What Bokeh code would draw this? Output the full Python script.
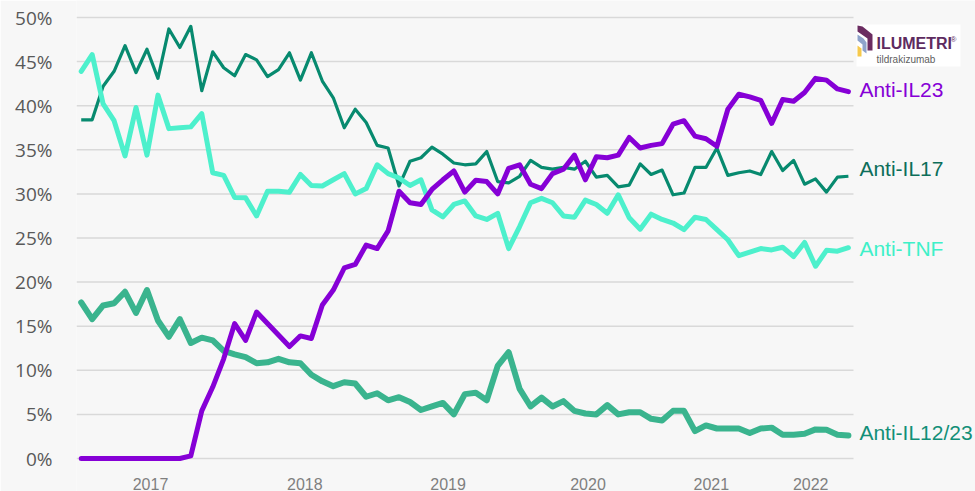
from bokeh.plotting import figure
from bokeh.models import (FixedTicker, PrintfTickFormatter, Label,
                          BoxAnnotation, PolyAnnotation, Range1d)
from bokeh.core.properties import value
from bokeh.embed import file_html
from bokeh.resources import INLINE

# ---------------- data (share of new patients, %) ----------------
months = list(range(71))

anti_il23 = [0, 0, 0, 0, 0, 0, 0, 0, 0, 0,
             0.3, 5.4, 8.1, 11.3, 15.3, 13.4, 16.6, 15.3, 14.0, 12.7, 13.9, 13.6, 17.4,
             19.1, 21.6, 22.0, 24.2, 23.8, 25.8, 30.3, 29.0, 28.8, 30.5, 31.6, 32.6, 30.2, 31.55,
             31.4, 30.0, 32.9, 33.3, 31.1, 30.6, 32.3, 32.8, 34.4, 31.6, 34.2, 34.1, 34.4, 36.4,
             35.2, 35.5, 35.7, 37.9, 38.3, 36.55, 36.25, 35.4, 39.6, 41.3, 41.0, 40.6, 38.0, 40.7,
             40.5, 41.5, 43.1, 42.9, 41.9, 41.6]

anti_il17 = [38.4, 38.4, 42.2, 43.9, 46.8, 43.75, 46.4, 43.1, 48.7, 46.6, 49.0,
             41.7, 46.1, 44.3, 43.4, 45.8, 45.2, 43.3, 44.1, 46.0, 42.9, 46.0, 42.8,
             40.9, 37.5, 39.6, 38.1, 35.5, 35.2, 30.9, 33.7, 34.1, 35.3, 34.5, 33.5, 33.3, 33.4,
             34.8, 31.4, 31.25, 32.0, 33.8, 33.0, 32.8, 33.0, 32.8, 33.7, 31.9, 32.1, 30.8, 31.0,
             33.4, 32.2, 32.7, 29.9, 30.1, 33.0, 33.0, 35.2, 32.1, 32.4, 32.6, 32.2, 34.8, 32.65,
             33.8, 31.1, 31.7, 30.2, 31.9, 32.0]

anti_tnf = [43.9, 45.8, 40.2, 38.3, 34.3, 39.8, 34.4, 41.2, 37.4, 37.5, 37.6, 39.1, 32.4, 32.1,
            29.6, 29.55, 27.5, 30.3, 30.3, 30.2, 32.2, 30.95, 30.9,
            31.6, 32.3, 30.0, 30.6, 33.3, 32.3, 31.8, 30.95, 31.6, 28.2, 27.4, 28.8, 29.2, 27.5,
            27.1, 27.8, 23.8, 26.3, 29.0, 29.5, 29.0, 27.5, 27.35, 29.3, 28.8, 27.8, 29.9, 27.3,
            26.0, 27.7, 27.1, 26.7, 25.95, 27.35, 27.1, 25.95, 24.8, 23.0, 23.4, 23.8, 23.65, 23.95,
            22.9, 24.5, 21.8, 23.6, 23.5, 23.9]

anti_il1223 = [17.7, 15.8, 17.35, 17.6, 18.9, 16.5, 19.1, 15.65, 13.8, 15.8, 13.1, 13.7, 13.4,
               12.2, 11.8, 11.5, 10.8, 10.9, 11.3, 10.9, 10.8, 9.5, 8.75,
               8.2, 8.65, 8.5, 7.0, 7.4, 6.6, 6.95, 6.4, 5.5, 5.9, 6.3, 5.0, 7.3, 7.45,
               6.6, 10.5, 12.05, 7.9, 5.9, 6.9, 5.9, 6.5, 5.4, 5.1, 5.0, 6.05, 5.0, 5.25,
               5.25, 4.5, 4.3, 5.4, 5.4, 3.1, 3.75, 3.4, 3.4, 3.4, 2.9, 3.4, 3.5, 2.7,
               2.7, 2.8, 3.3, 3.25, 2.7, 2.6]

series_names = ["Anti-IL23", "Anti-IL17", "Anti-TNF", "Anti-IL12/23"]
year_labels = ["2017", "2018", "2019", "2020", "2021", "2022"]
y_tick_values = list(range(0, 51, 5))

# ---------------- layout ----------------
W, H = 975, 491
ML, MR, MT, MB = 76, 0, 0, 0
PX_PER_X = 10.96
PX_PER_Y = 8.82
X0 = -0.43
X1 = X0 + (W - ML - MR) / PX_PER_X
Y1 = 50 + 17 / PX_PER_Y
Y0 = Y1 - (H - MT - MB) / PX_PER_Y
year_tick_pos = [6.32, 20.4, 33.47, 46.24, 57.49, 66.56]

p = figure(width=W, height=H, output_backend="svg", toolbar_location=None,
           x_range=Range1d(X0, X1), y_range=Range1d(Y0, Y1),
           min_border_left=ML, min_border_right=MR, min_border_top=MT, min_border_bottom=MB,
           background_fill_color="#f7f7f7", border_fill_color="#f7f7f7")
p.outline_line_color = None

# helpers: page pixel -> data coordinates (for decoration only)
def px2x(px):
    return X0 + (px - ML) / PX_PER_X
def py2y(py):
    return Y1 - (py - MT) / PX_PER_Y

# axes
p.xaxis.visible = False

p.yaxis.ticker = FixedTicker(ticks=y_tick_values)
p.yaxis.formatter = PrintfTickFormatter(format="%d%%")
p.yaxis.axis_line_color = None
p.yaxis.major_tick_line_color = None
p.yaxis.minor_tick_line_color = None
p.yaxis.major_tick_out = 0
p.yaxis.major_tick_in = 0
p.yaxis.major_label_standoff = 24
p.yaxis.major_label_text_font = "Open Sans"
p.yaxis.major_label_text_font_size = "19px"
p.yaxis.major_label_text_color = "#595959"

p.xgrid.visible = False
p.ygrid.visible = False

# horizontal gridlines limited to the chart area
grid_end = px2x(853)
p.segment(x0=[X0] * len(y_tick_values), x1=[grid_end] * len(y_tick_values),
          y0=y_tick_values, y1=y_tick_values, line_color="#d9d9d9", line_width=1.5)

# year labels (category axis)
p.text(x=year_tick_pos, y=[py2y(483)] * len(year_labels), text=year_labels,
       text_font=value("Liberation Sans"), text_font_size="16px", text_color="#7f7f7f",
       text_align="center", text_baseline="middle")

# lines
p.line(months, anti_il1223, line_color="#3ab48e", line_width=6, line_join="round", line_cap="round")
p.line(months, anti_il17, line_color="#078a6f", line_width=3.2, line_join="round")
p.line(months, anti_tnf, line_color="#4df0cc", line_width=5, line_join="round", line_cap="round")
p.line(months, anti_il23, line_color="#8600d6", line_width=5, line_join="round", line_cap="round")

# end labels
label_specs = [
    (series_names[0], py2y(89), "#8600d6"),
    (series_names[1], py2y(168), "#0d6e5a"),
    (series_names[2], py2y(247.5), "#3ef0c8"),
    (series_names[3], py2y(432), "#128f77"),
]
for txt, yv, col in label_specs:
    p.add_layout(Label(x=months[-1], y=yv, x_offset=11, text=txt,
                       text_font="Liberation Sans", text_font_size="21px",
                       text_color=col, text_baseline="middle", text_align="left"))

# logo (decoration)
p.add_layout(BoxAnnotation(left=px2x(856), right=px2x(960), top=py2y(24), bottom=py2y(66),
                           fill_color="white", fill_alpha=1.0, line_color=None))
stripes = [
    ([857, 862, 872, 872, 867, 867, 857], [25, 26, 34, 50, 50, 38, 31], "#6b2c61"),
    ([857, 863, 866, 866, 862, 862, 857], [34, 38, 42, 53, 50, 44, 40], "#8ea3cb"),
    ([857, 861, 861, 857], [45, 48, 56, 56], "#f6c94c"),
]
for xs, ys, col in stripes:
    p.add_layout(PolyAnnotation(xs=[px2x(v) for v in xs], ys=[py2y(v) for v in ys],
                                fill_color=col, fill_alpha=1.0, line_color=None))
p.add_layout(Label(x=px2x(876), y=py2y(43), text="ILUMETRI", text_font="Liberation Sans",
                   text_font_style="bold", text_font_size="16px", text_color="#5e2b5f",
                   text_baseline="middle", text_align="left"))
p.add_layout(Label(x=px2x(950), y=py2y(39), text="®", text_font="Liberation Sans",
                   text_font_size="8px", text_color="#5e2b5f",
                   text_baseline="middle", text_align="left"))
p.add_layout(Label(x=px2x(876), y=py2y(58.5), text="tildrakizumab", text_font="Liberation Sans",
                   text_font_size="10px", text_color="#606060",
                   text_baseline="middle", text_align="left"))

open("out.html", "w").write(file_html(p, INLINE))
